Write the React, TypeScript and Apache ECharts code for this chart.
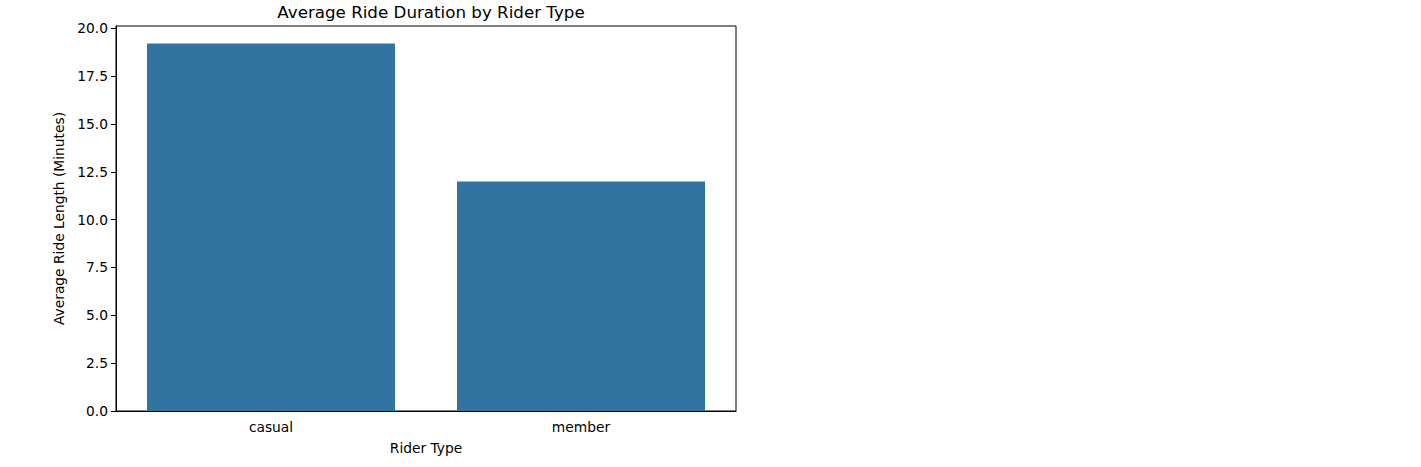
import { useEffect, useRef } from 'react';
import * as echarts from 'echarts';

const riderTypes = ['casual', 'member'];
const avgRideMinutes = [19.2, 12.0];
const yTicks = [0, 2.5, 5, 7.5, 10, 12.5, 15, 17.5, 20];

const FONT = '"DejaVu Sans", sans-serif';

export default function App() {
  const chartRef = useRef<HTMLDivElement>(null);

  useEffect(() => {
    if (!chartRef.current) return;
    const chart = echarts.init(chartRef.current, undefined, { renderer: 'svg' });

    chart.setOption({
      animation: false,
      backgroundColor: '#ffffff',
      textStyle: { fontFamily: FONT },
      title: {
        text: 'Average Ride Duration by Rider Type',
        left: 426,
        top: -2,
        textAlign: 'center',
        textStyle: { fontFamily: FONT, fontSize: 16.7, fontWeight: 'normal', color: '#000' },
      },
      grid: {
        left: 116,
        right: 685,
        top: 26,
        bottom: 56,
        show: true,
        borderColor: '#000',
        borderWidth: 1,
        backgroundColor: 'transparent',
      },
      xAxis: {
        type: 'category',
        data: riderTypes,
        name: 'Rider Type',
        nameLocation: 'middle',
        nameGap: 30,
        nameTextStyle: { fontFamily: FONT, fontSize: 13.8, color: '#000' },
        axisLine: { lineStyle: { color: '#000', width: 1 } },
        axisTick: { alignWithLabel: true, length: 5, lineStyle: { color: '#000' } },
        axisLabel: { fontFamily: FONT, fontSize: 13.8, color: '#000', margin: 9 },
        splitLine: { show: false },
      },
      yAxis: {
        type: 'value',
        min: 0,
        max: 20.12,
        name: 'Average Ride Length (Minutes)',
        nameLocation: 'middle',
        nameGap: 50,
        nameTextStyle: { fontFamily: FONT, fontSize: 13.8, color: '#000' },
        axisLine: { show: true, lineStyle: { color: '#000', width: 1 } },
        axisTick: { show: true, length: 5, lineStyle: { color: '#000' }, customValues: yTicks },
        axisLabel: {
          fontFamily: FONT,
          fontSize: 13.8,
          color: '#000',
          margin: 8,
          customValues: yTicks,
          formatter: (v: number) => v.toFixed(1),
        },
        splitLine: { show: false },
      },
      series: [
        {
          type: 'bar',
          data: avgRideMinutes,
          barCategoryGap: '20%',
          itemStyle: { color: '#3274a1' },
        },
      ],
    });

    return () => chart.dispose();
  }, []);

  return (
    <div
      ref={chartRef}
      style={{ position: 'fixed', left: 0, top: 0, width: '1421px', height: '467px' }}
    />
  );
}
